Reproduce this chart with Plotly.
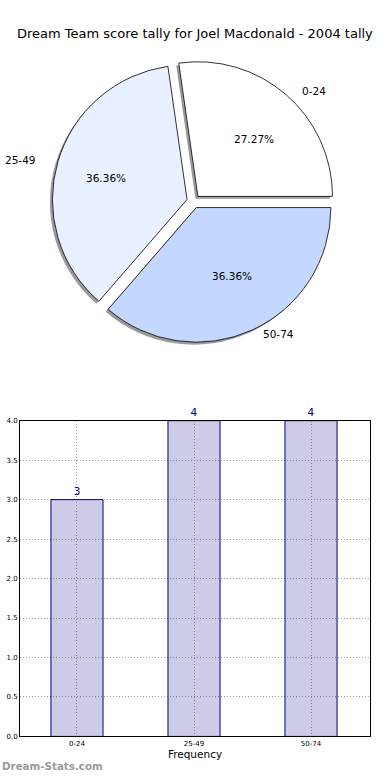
import math
import plotly.graph_objects as go

# ---- data ----
categories = ["0-24", "25-49", "50-74"]
counts = [3, 4, 4]
slice_colors = ["#ffffff", "#e9f0ff", "#c4d8ff"]
title_text = "Dream Team score tally for Joel Macdonald - 2004 tally"
y_tick_vals = [0.0, 0.5, 1.0, 1.5, 2.0, 2.5, 3.0, 3.5, 4.0]
y_tick_text = ["0.0", "0.5", "1.0", "1.5", "2.0", "2.5", "3.0", "3.5", "4.0"]

W, H = 390, 780
FONT = "DejaVu Sans"

# pie geometry (pixels)
cx, cy = 193.5, 199.5
r = 136
rx_lab, ry_lab = 141, 128
explode = 0.05
D = r * 2 * (1 + explode)

total = sum(counts)
# first slice starts at 3 o'clock and runs counterclockwise
pie_rotation = 90 - 360 * counts[0] / total


def px_to_paper(px, py):
    return px / W, 1 - py / H


def dom(cxp, cyp):
    x0, y0 = px_to_paper(cxp - D / 2, cyp + D / 2)
    x1, y1 = px_to_paper(cxp + D / 2, cyp - D / 2)
    return dict(x=[x0, x1], y=[y0, y1])


fig = go.Figure()

# shadow
fig.add_trace(go.Pie(
    labels=categories, values=counts, sort=False, direction="counterclockwise",
    rotation=pie_rotation, pull=[explode] * 3,
    marker=dict(colors=["#9a9a9a"] * 3, line=dict(width=0)),
    textinfo="none", hoverinfo="skip", showlegend=False,
    domain=dom(cx - 2.5, cy + 2.5),
))

# main pie
fig.add_trace(go.Pie(
    labels=categories, values=counts, sort=False, direction="counterclockwise",
    rotation=pie_rotation, pull=[explode] * 3,
    marker=dict(colors=slice_colors, line=dict(color="#000000", width=0.8)),
    textinfo="none", showlegend=False,
    domain=dom(cx, cy),
))

annotations = []
start = 0.0
for lab, v in zip(categories, counts):
    frac = v / total
    mid = math.radians((start + frac / 2) * 360)
    start += frac
    c, s = math.cos(mid), math.sin(mid)
    tx = cx + explode * rx_lab * c
    ty = cy - explode * ry_lab * s
    # label
    lx = tx + 1.1 * rx_lab * c
    ly = ty - 1.1 * ry_lab * s
    px_, py_ = px_to_paper(lx, ly)
    annotations.append(dict(
        x=px_, y=py_, xref="paper", yref="paper", text=lab, showarrow=False,
        xanchor="left" if c > 0 else "right", yanchor="middle",
        font=dict(family=FONT, size=10.5, color="#000000")))
    # percent
    qx = tx + 0.6 * rx_lab * c
    qy = ty - 0.6 * ry_lab * s
    px_, py_ = px_to_paper(qx, qy)
    annotations.append(dict(
        x=px_, y=py_, xref="paper", yref="paper", text=f"{frac*100:.2f}%",
        showarrow=False, xanchor="center", yanchor="middle",
        font=dict(family=FONT, size=10.5, color="#000000")))

# bar chart
fig.add_trace(go.Bar(
    x=categories, y=counts, width=0.445,
    marker=dict(color="rgba(0,0,128,0.2)", line=dict(color="#000080", width=1)),
    text=[str(v) for v in counts], textposition="outside", cliponaxis=False,
    textfont=dict(family=FONT, size=10.5, color="#000080"),
    xaxis="x", yaxis="y", showlegend=False,
))

annotations.append(dict(
    x=0.5, y=1 - 30 / H, xref="paper", yref="paper", text=title_text,
    showarrow=False, xanchor="center", yanchor="middle",
    font=dict(family=FONT, size=13, color="#000000")))
annotations.append(dict(
    x=0.0, y=1 - 770 / H, xref="paper", yref="paper", text="<b>Dream-Stats.com</b>",
    showarrow=False, xanchor="left", yanchor="middle",
    font=dict(family=FONT, size=10.3, color="#9a9a9a")))

fig.update_layout(
    width=W, height=H, margin=dict(l=0, r=0, t=0, b=0),
    paper_bgcolor="white", plot_bgcolor="white",
    font=dict(family=FONT, color="#000000"),
    annotations=annotations,
    xaxis=dict(
        domain=[20 / W, 370 / W], range=[-0.487, 2.504],
        showgrid=True, gridcolor="#a0a0a0", griddash="1px,2px", gridwidth=1,
        showline=True, linecolor="#000000", linewidth=1, mirror=True,
        ticks="", tickfont=dict(family=FONT, size=7, color="#000000"),
        title=dict(text="Frequency", font=dict(family=FONT, size=10.5), standoff=2),
        zeroline=False, layer="above traces", anchor="y",
    ),
    yaxis=dict(
        domain=[1 - 740 / H, 1 - 421 / H], range=[0, 4],
        tickvals=y_tick_vals, ticktext=y_tick_text,
        showgrid=True, gridcolor="#a0a0a0", griddash="1px,2px", gridwidth=1,
        showline=True, linecolor="#000000", linewidth=1, mirror=True,
        ticks="", tickfont=dict(family=FONT, size=7, color="#000000"),
        zeroline=False, layer="above traces", anchor="x",
    ),
)

fig.write_html("out.html", config={"displayModeBar": False},
               post_script="document.body.style.margin='0';")
